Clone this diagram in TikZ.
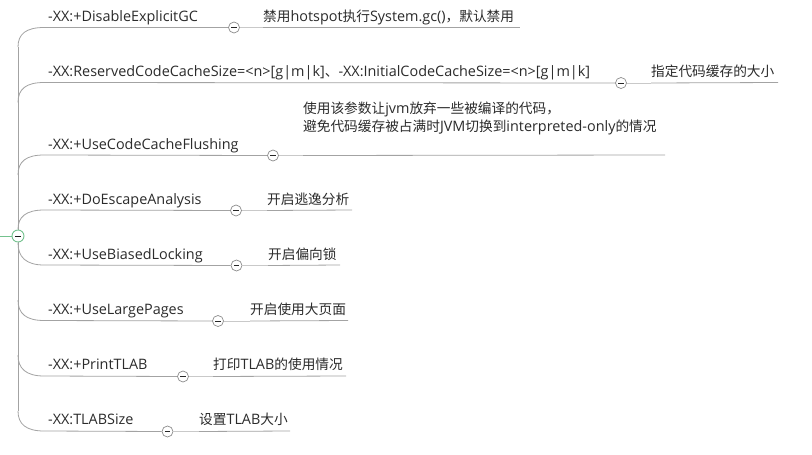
\documentclass[tikz,border=0pt]{standalone}
\usepackage{fontspec}
\setmainfont{Open Sans}
\newfontfamily\cjk{Noto Sans CJK SC}[Scale=0.95]
\definecolor{textc}{HTML}{2B2B2B}
\definecolor{linec}{HTML}{A3A3A3}
\definecolor{linkc}{HTML}{C9C9C9}
\definecolor{togc}{HTML}{8C8C8C}
\definecolor{greenc}{HTML}{74C28E}
\begin{document}
\begin{tikzpicture}[x=1pt,y=-1pt,
  txt/.style={anchor=base west,inner sep=0pt,text=textc,font=\fontsize{14.4}{18}\selectfont},
  tog/.style={circle,draw=togc,fill=white,minimum size=11pt,inner sep=0pt,line width=0.7pt,
    path picture={\draw[line width=0.9pt,black!85] (-2.6pt,0pt)--(2.6pt,0pt);}},
  rootc/.style={circle,draw=greenc,fill=white,minimum size=12pt,inner sep=0pt,line width=0.9pt,
    path picture={\draw[line width=1pt,black!90] (-2.8pt,0pt)--(2.8pt,0pt);}},
  branch/.style={draw=linec,line width=0.8pt},
  link/.style={draw=linkc,line width=0.8pt}
]
\useasboundingbox[fill=white] (0,0) rectangle (812,455);

% trunk
\coordinate (tt) at (18,47);
\coordinate (tb) at (18,411);
\draw[branch] (tt) -- (tb);

% item 1
\node[txt] (p1) at (48,21.5) {-XX:+DisableExplicitGC};
\node[tog] (t1) at (234,27.5) {};
\node[txt] (c1) at (263,21.5) {{\cjk 禁用}hotspot{\cjk 执行}System.gc(){\cjk ，默认禁用}};
\coordinate (e1) at (520,27.5);
\draw[branch] (tt) .. controls (18,34) and (26,27.5) .. (44,27.5) -- (t1.west);
\draw[link] (t1.east) -- (t1 -| c1.west);
\draw[branch] (t1 -| c1.west) -- (e1);

% item 2
\coordinate (s2) at (18,102.5);
\node[txt] (p2) at (48,76.5) {-XX:ReservedCodeCacheSize=<n>[g|m|k]{\cjk 、}-XX:InitialCodeCacheSize=<n>[g|m|k]};
\node[tog] (t2) at (621,83) {};
\node[txt] (c2) at (651,76.5) {\cjk 指定代码缓存的大小};
\coordinate (e2) at (778,82.5);
\draw[branch] (s2) .. controls (18,89) and (26,82.5) .. (44,82.5) -- (t2.west);
\draw[link] (t2.east) -- (t2 -| c2.west);
\draw[branch] (t2 -| c2.west) -- (e2);

% item 3
\coordinate (s3) at (18,175);
\node[txt] (p3) at (48,149) {-XX:+UseCodeCacheFlushing};
\node[tog] (t3) at (273,155.5) {};
\node[txt,align=left] (c3) at (303,131) {{\cjk 使用该参数让}jvm{\cjk 放弃一些被编译的代码，}\\{\cjk 避免代码缓存被占满时}JVM{\cjk 切换到}interpreted-only{\cjk 的情况}};
\coordinate (e3) at (665,155);
\draw[branch] (s3) .. controls (18,161.5) and (26,155) .. (44,155) -- (t3.west);
\draw[link] (t3.east) -- (t3 -| c3.west);
\draw[branch] (t3 -| c3.west) -- (e3);

% item 4
\coordinate (s4) at (18,229);
\node[txt] (p4) at (48,204) {-XX:+DoEscapeAnalysis};
\node[tog] (t4) at (236,210.5) {};
\node[txt] (c4) at (267,204) {\cjk 开启逃逸分析};
\coordinate (e4) at (352,210);
\draw[branch] (s4) .. controls (18,217) and (26,210) .. (44,210) -- (t4.west);
\draw[link] (t4.east) -- (t4 -| c4.west);
\draw[branch] (t4 -| c4.west) -- (e4);

% item 5
\coordinate (s5) at (18,243);
\node[txt] (p5) at (48,259) {-XX:+UseBiasedLocking};
\node[tog] (t5) at (236.5,265.5) {};
\node[txt] (c5) at (268,259) {\cjk 开启偏向锁};
\coordinate (e5) at (340,265);
\draw[branch] (s5) .. controls (18,257) and (26,265) .. (44,265) -- (t5.west);
\draw[link] (t5.east) -- (t5 -| c5.west);
\draw[branch] (t5 -| c5.west) -- (e5);

% item 6
\coordinate (s6) at (18,300);
\node[txt] (p6) at (48,314.5) {-XX:+UseLargePages};
\node[tog] (t6) at (218,321) {};
\node[txt] (c6) at (250,314.5) {\cjk 开启使用大页面};
\coordinate (e6) at (348,320.5);
\draw[branch] (s6) .. controls (18,313.5) and (26,320.5) .. (44,320.5) -- (t6.west);
\draw[link] (t6.east) -- (t6 -| c6.west);
\draw[branch] (t6 -| c6.west) -- (e6);

% item 7
\coordinate (s7) at (18,355);
\node[txt] (p7) at (48,369.5) {-XX:+PrintTLAB};
\node[tog] (t7) at (183,376.5) {};
\node[txt] (c7) at (213,369.5) {{\cjk 打印}TLAB{\cjk 的使用情况}};
\coordinate (e7) at (346,376);
\draw[branch] (s7) .. controls (18,368.5) and (26,376) .. (44,376) -- (t7.west);
\draw[link] (t7.east) -- (t7 -| c7.west);
\draw[branch] (t7 -| c7.west) -- (e7);

% item 8
\node[txt] (p8) at (48,424.5) {-XX:TLABSize};
\node[tog] (t8) at (167.5,431.5) {};
\node[txt] (c8) at (199,424.5) {{\cjk 设置}TLAB{\cjk 大小}};
\coordinate (e8) at (290,431);
\draw[branch] (tb) .. controls (18,424) and (26,431) .. (44,431) -- (t8.west);
\draw[link] (t8.east) -- (t8 -| c8.west);
\draw[branch] (t8 -| c8.west) -- (e8);

% root
\coordinate (rin) at (0,236);
\node[rootc] (root) at (18,236) {};
\draw[greenc,line width=0.9pt] (rin) -- (root.west);
\end{tikzpicture}
\end{document}
